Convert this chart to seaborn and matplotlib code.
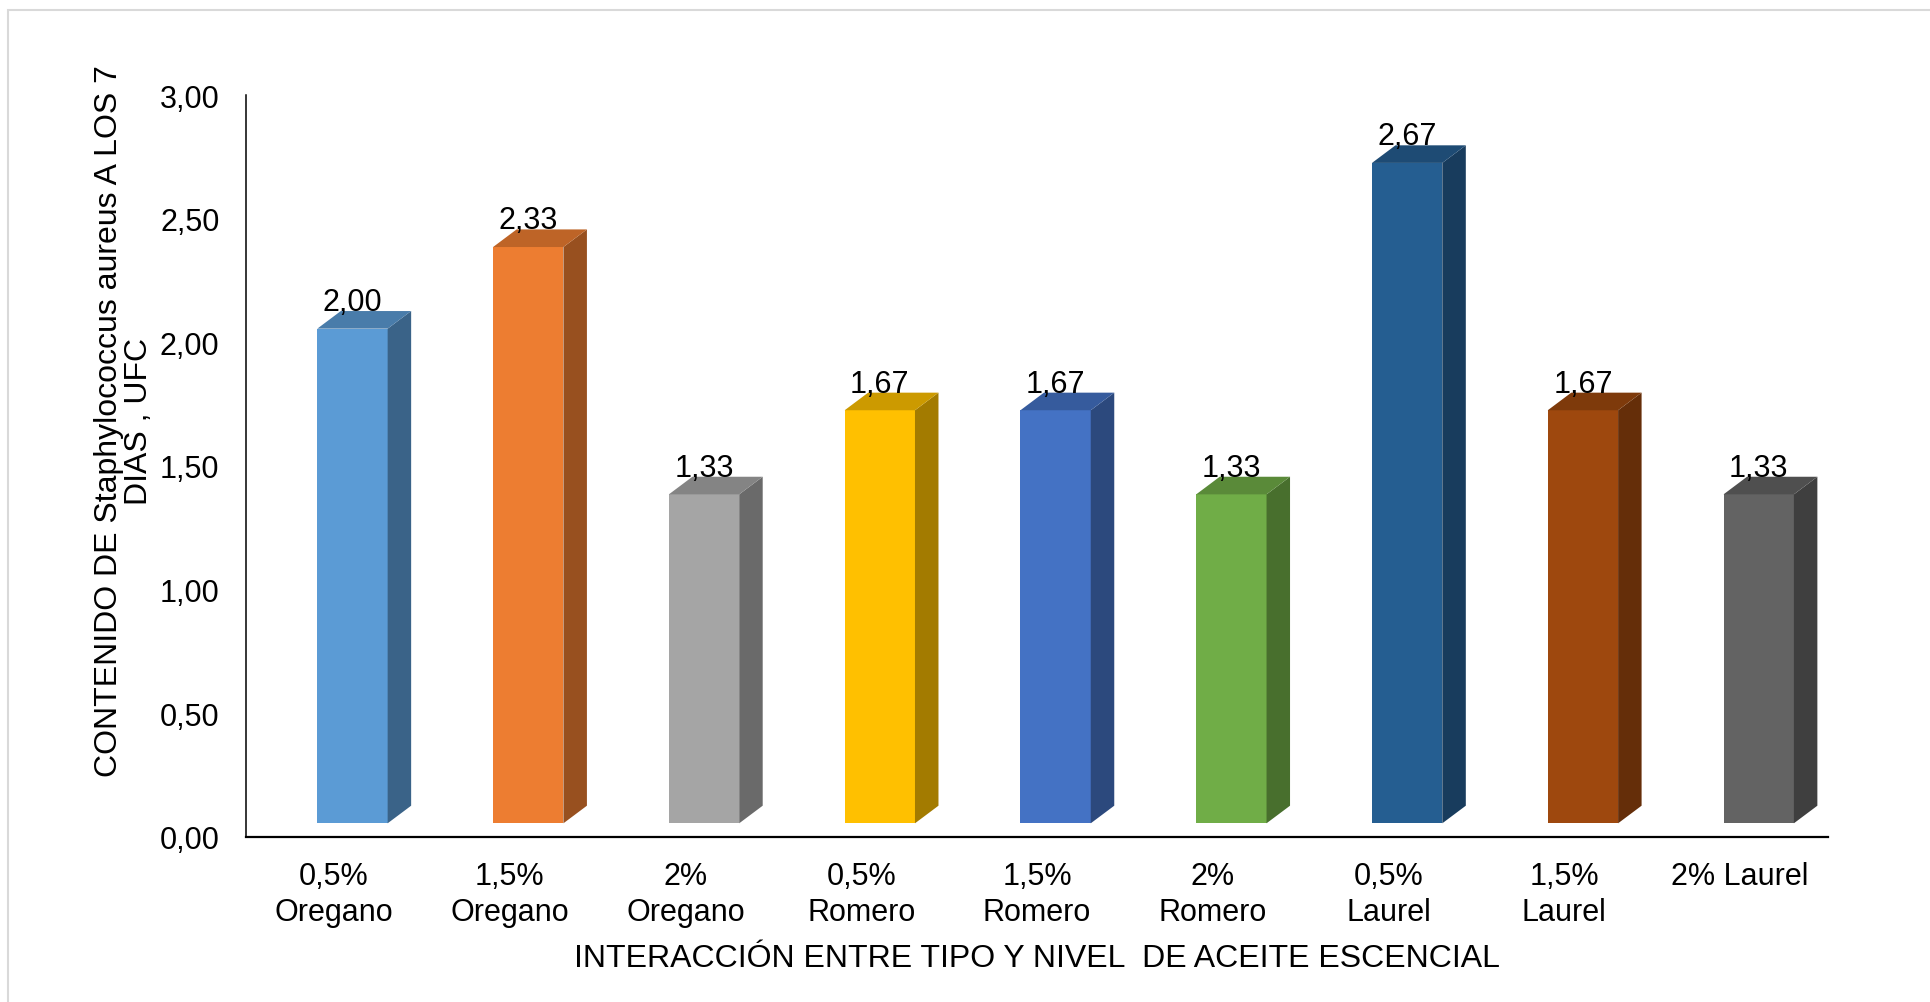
import numpy as np
import pandas as pd
import matplotlib
matplotlib.use("Agg")
import matplotlib.pyplot as plt
import seaborn as sns
from matplotlib.patches import Polygon, Rectangle
from matplotlib.transforms import Affine2D, IdentityTransform
from matplotlib.colors import to_rgb
from matplotlib.ticker import FuncFormatter

# --- data -------------------------------------------------------------
categories = ["0,5%\nOregano", "1,5%\nOregano", "2%\nOregano",
              "0,5%\nRomero", "1,5%\nRomero", "2%\nRomero",
              "0,5%\nLaurel", "1,5%\nLaurel", "2% Laurel"]
values = [2.00, 2.33, 1.33, 1.67, 1.67, 1.33, 2.67, 1.67, 1.33]
bar_colors = ["#5B9BD5", "#ED7D31", "#A5A5A5", "#FFC000", "#4472C4",
              "#70AD47", "#255E91", "#9E480E", "#636363"]
y_ticks = [0.0, 0.5, 1.0, 1.5, 2.0, 2.5, 3.0]
x_title = "INTERACCIÓN ENTRE TIPO Y NIVEL  DE ACEITE ESCENCIAL"
y_title = "CONTENIDO DE Staphylococcus aureus A LOS 7\nDIAS , UFC"

# --- style ------------------------------------------------------------
sns.set_theme(style="white")
plt.rcParams["font.family"] = ["Liberation Sans", "DejaVu Sans"]
FS_TICK = 22
FS_TITLE = 23

DPI = 100
fig = plt.figure(figsize=(19.30, 10.03), dpi=DPI)
fig.patch.set_facecolor("white")
W, H = 1930, 1003
AX_BOTTOM, AX_TOP = 838, 96
ax = fig.add_axes([246 / W, (H - AX_BOTTOM) / H, 1582 / W, (AX_BOTTOM - AX_TOP) / H])
AX_H = AX_BOTTOM - AX_TOP

df = pd.DataFrame({"cat": categories, "val": values})
sns.barplot(data=df, x="cat", y="val", hue="cat", palette=bar_colors,
            width=0.4, saturation=1, legend=False, ax=ax, linewidth=0)

ax.set_xlim(-0.5, len(categories) - 0.5)
ax.set_ylim(0, 3.0)

# 3D look: front face shifted, plus side and top faces
OX, OY = 18.6, 13.7      # front-face shift (px)
DX, DY = 23.5, 17.6      # depth of the box (px)
front_shift = Affine2D().translate(OX, OY)


def shade(c, f):
    r, g, b = to_rgb(c)
    return (r * f, g * f, b * f)


for p in list(ax.patches):
    if not isinstance(p, Rectangle):
        continue
    xc = p.get_x() + p.get_width() / 2
    i = int(round(xc))
    h = p.get_height()
    p.set_transform(ax.transData + front_shift)
    p.set_zorder(3)
    X0, Y0 = ax.transData.transform((p.get_x(), 0))
    X1, Yt = ax.transData.transform((p.get_x() + p.get_width(), h))
    X0 += OX; X1 += OX; Y0 += OY; Yt += OY
    side = Polygon([(X1, Y0), (X1 + DX, Y0 + DY), (X1 + DX, Yt + DY), (X1, Yt)],
                   closed=True, facecolor=shade(bar_colors[i], 0.64),
                   edgecolor="none", transform=IdentityTransform(), zorder=3)
    top = Polygon([(X0, Yt), (X0 + DX, Yt + DY), (X1 + DX, Yt + DY), (X1, Yt)],
                  closed=True, facecolor=shade(bar_colors[i], 0.80),
                  edgecolor="none", transform=IdentityTransform(), zorder=3)
    ax.add_artist(side)
    ax.add_artist(top)
    ax.annotate(f"{values[i]:.2f}".replace(".", ","), xy=(xc, values[i]),
                xytext=(OX * 72 / DPI, (OY + DY + 1) * 72 / DPI),
                textcoords="offset points", ha="center", va="baseline",
                fontsize=FS_TICK, color="black", zorder=4,
                annotation_clip=False)

# axes styling
ax.set_yticks(y_ticks)
ax.yaxis.set_major_formatter(FuncFormatter(lambda v, _: f"{v:.2f}".replace(".", ",")))
ax.tick_params(axis="y", length=0, pad=19, labelsize=FS_TICK, labelcolor="black")
ax.tick_params(axis="x", length=0, pad=17, labelsize=FS_TICK, labelcolor="black")
ax.set_xticks(range(len(categories)))
ax.set_xticklabels(categories, linespacing=1.27)

for s in ("top", "right"):
    ax.spines[s].set_visible(False)
ax.spines["left"].set_color("black")
ax.spines["left"].set_linewidth(1.1)
ax.spines["bottom"].set_color("black")
ax.spines["bottom"].set_linewidth(1.6)
ax.grid(False)
ax.set_facecolor("white")

ax.set_xlabel(x_title, fontsize=FS_TITLE, color="black", va="center")
ax.xaxis.set_label_coords(0.5, (AX_BOTTOM - 959) / AX_H)
ax.set_ylabel(y_title, fontsize=FS_TITLE, color="black", va="center",
              ha="center", multialignment="center", linespacing=1.0)
ax.yaxis.set_label_coords((124 - 246) / 1582, (AX_BOTTOM - 421) / AX_H)

# light chart-area frame
fig.add_artist(Rectangle((8 / W, -0.1), 1.2, (H - 11) / H + 0.1,
                         transform=fig.transFigure, facecolor="none",
                         edgecolor="#D9D9D9", linewidth=1.5, zorder=0))

fig.savefig("out.png", dpi=DPI, facecolor="white")
